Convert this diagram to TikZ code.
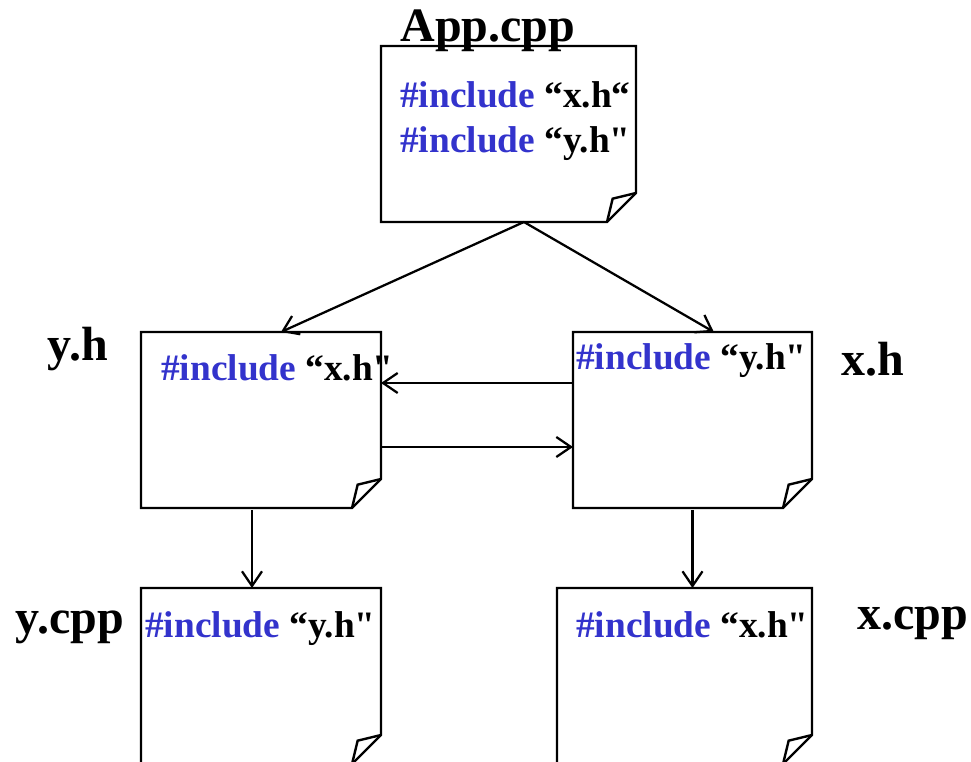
\documentclass[tikz,border=0pt]{standalone}
\usepackage{fontspec}
\setmainfont{Liberation Serif}[Ligatures=TeXOff]
\usetikzlibrary{arrows.meta, calc}

\definecolor{keyblue}{RGB}{51,51,204}

% a sheet of paper with its lower right corner folded over
\newcommand{\foldedsheet}[1]{%
  \draw[sheetline] (#1.north west) -- (#1.north east)
    -- ([yshift=21.75pt]#1.south east) -- ([xshift=-21.75pt]#1.south east)
    -- (#1.south west) -- cycle;
  \draw[sheetline] ([yshift=21.75pt]#1.south east)
    -- ([shift={(-17.5pt,17.5pt)}]#1.south east)
    -- ([xshift=-21.75pt]#1.south east);
}
\newcommand{\kw}[1]{\textcolor{keyblue}{#1}}

\begin{document}
\begin{tikzpicture}[x=0.75pt, y=-0.75pt,
    sheet/.style={minimum width=#1, minimum height=132pt, inner sep=0pt, outer sep=0pt},
    sheetline/.style={line width=1.8pt},
    code/.style={anchor=base west, inner sep=0pt, font=\fontsize{28}{33}\selectfont\bfseries},
    filename/.style={anchor=base, inner sep=0pt, font=\fontsize{36}{42}\selectfont\bfseries},
    conn/.style={line width=1.7pt, -{Straight Barb[length=11pt, width=15pt]}}]

  \useasboundingbox (0,0) rectangle (971,762);

  % ----- files -----
  \node[sheet=191.25pt] (app)  at (508.5,134) {};
  \node[sheet=180pt]    (yh)   at (261,420)   {};
  \node[sheet=179.25pt] (xh)   at (692.5,420) {};
  \node[sheet=180pt]    (ycpp) at (261,676)   {};
  \node[sheet=191.25pt] (xcpp) at (684.5,676) {};

  \foreach \f in {app, yh, xh, ycpp, xcpp}
    \foldedsheet{\f};

  % ----- file names -----
  \node[filename] (appname)  at (488,42)  {App.cpp};
  \node[filename] (yhname)   at (78,361)  {y.h};
  \node[filename] (xhname)   at (873,376) {x.h};
  \node[filename] (ycppname) at (70,633)  {y.cpp};
  \node[filename] (xcppname) at (913,629) {x.cpp};

  % ----- contents -----
  \node[code] (appinc1)  at (400,108) {\kw{\#include} “x.h“};
  \node[code] (appinc2)  at (400,153) {\kw{\#include} “y.h"};
  \node[code] (yhinc)    at (161,381) {\kw{\#include} “x.h"};
  \node[code] (xhinc)    at (576,370) {\kw{\#include} “y.h"};
  \node[code] (ycppinc)  at (145,637) {\kw{\#include} “y.h"};
  \node[code] (xcppinc)  at (576,637) {\kw{\#include} “x.h"};

  % ----- include arrows -----
  \draw[conn] ([xshift=11.6pt]app.south) -- ([xshift=15pt]yh.north);
  \draw[conn] ([xshift=11.6pt]app.south) -- ([xshift=16pt]xh.north);
  \draw[conn] ([yshift=27.75pt]xh.west) -- ([yshift=27.75pt]yh.east);
  \draw[conn] ([yshift=-20.25pt]yh.east) -- ([yshift=-20.25pt]xh.west);
  \draw[conn] ([xshift=-6.75pt,yshift=-1.5pt]yh.south) -- ([xshift=-6.75pt]yh.south |- ycpp.north);
  \draw[conn] ([yshift=-1.5pt]xh.south) -- (xh.south |- xcpp.north);

\end{tikzpicture}
\end{document}
